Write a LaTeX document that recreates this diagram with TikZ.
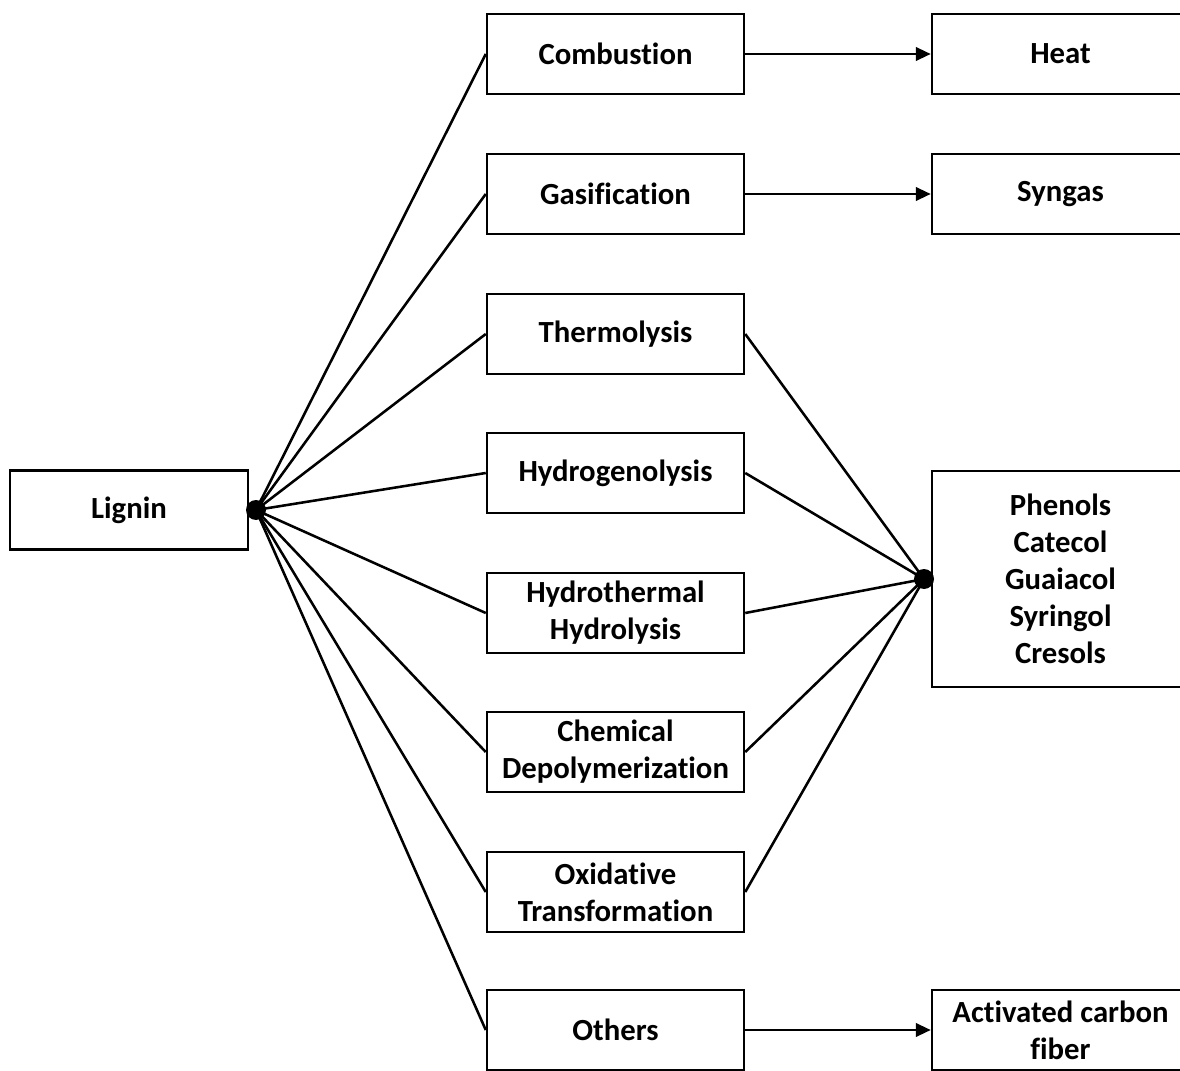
\documentclass[tikz,border=0pt]{standalone}
\usepackage{fontspec}
\setmainfont{Carlito}[Ligatures={NoCommon}]
\usetikzlibrary{positioning, arrows.meta}

\begin{document}
\begin{tikzpicture}[
    x=0.02cm, y=-0.02cm,
    line width=1.45pt,
    every node/.style={font=\fontsize{17.5}{21}\selectfont\bfseries},
    box/.style={
        draw=black,
        fill=white,
        minimum width=5.14cm,
        minimum height=1.6cm,
        align=center,
        inner sep=0pt
    },
    link/.style={line width=1.45pt},
    flow/.style={line width=1.45pt, -{Triangle[length=3mm, width=2.7mm]}}
]
\clip (0,0) rectangle (1180,1071);

% --- source ---
\node[box, minimum width=4.76cm, minimum height=1.58cm] (lignin) at (129,510) {Lignin};

% --- conversion routes ---
\node[box] (comb) at (615.5,54) {Combustion};
\node[box] (gasi) at (615.5,194) {Gasification};
\node[box] (thermo) at (615.5,334) {Thermolysis};
\node[box] (hydrog) at (615.5,473) {Hydrogenolysis};
\node[box] (hydrot) at (615.5,613) {Hydrothermal\\ Hydrolysis};
\node[box] (chem) at (615.5,752) {Chemical\\ Depolymerization};
\node[box] (oxid) at (615.5,892) {Oxidative\\ Transformation};
\node[box] (others) at (615.5,1030) {Others};

% --- products ---
\node[box] (heat) at (1060.5,54) {Heat};
\node[box] (syngas) at (1060.5,194) {Syngas};
\node[box, minimum height=4.32cm] (phenols) at (1060.5,579) {Phenols\\ Catecol\\ Guaiacol\\ Syringol\\ Cresols};
\node[box] (carbon) at (1060.5,1030) {Activated carbon\\ fiber};

% --- junctions ---
\coordinate (jL) at (256,510);
\coordinate (jR) at (924,579);
\fill (jL) circle (0.2cm);
\fill (jR) circle (0.2cm);

% --- lignin to routes ---
\draw[link] (jL) -- (comb.west);
\draw[link] (jL) -- (gasi.west);
\draw[link] (jL) -- (thermo.west);
\draw[link] (jL) -- (hydrog.west);
\draw[link] (jL) -- (hydrot.west);
\draw[link] (jL) -- (chem.west);
\draw[link] (jL) -- (oxid.west);
\draw[link] (jL) -- (others.west);

% --- routes to phenolics ---
\draw[link] (thermo.east) -- (jR);
\draw[link] (hydrog.east) -- (jR);
\draw[link] (hydrot.east) -- (jR);
\draw[link] (chem.east) -- (jR);
\draw[link] (oxid.east) -- (jR);

% --- direct products ---
\draw[flow] (comb) -- (heat);
\draw[flow] (gasi) -- (syngas);
\draw[flow] (others) -- (carbon);

\end{tikzpicture}
\end{document}
